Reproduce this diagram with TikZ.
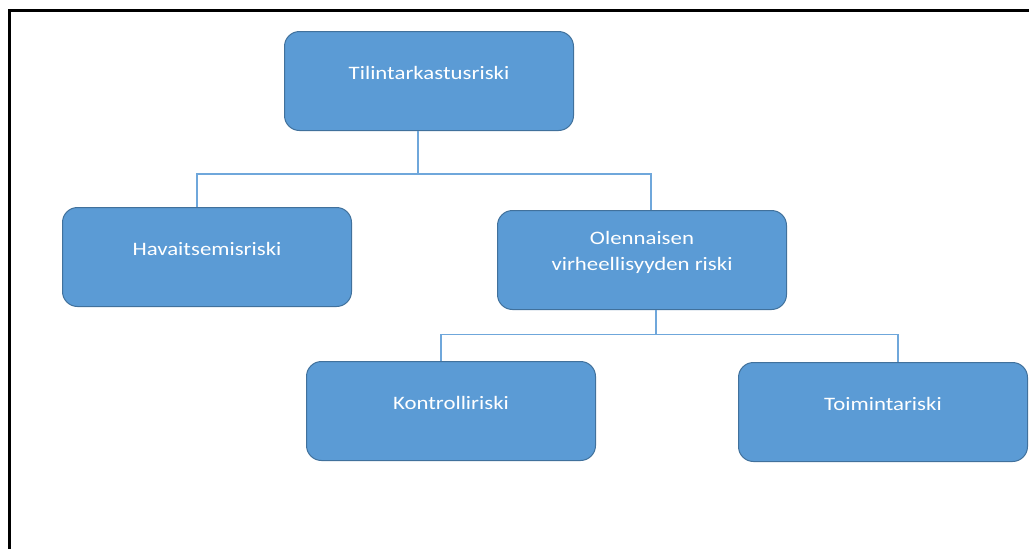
\documentclass[tikz,border=0pt]{standalone}
\usepackage{fontspec}
\usepackage{graphicx}
\setmainfont{Carlito}
\newcommand{\wide}[1]{\scalebox{1.2}[1]{#1}}
\begin{document}
\begin{tikzpicture}[x=1pt,y=-1pt,
  riskbox/.style={draw=boxedge, fill=boxfill, line width=1pt, rounded corners=15pt,
    minimum width=289pt, minimum height=99pt, inner sep=0pt, anchor=north west},
  risktext/.style={text=white, font=\fontsize{19}{26}\selectfont, align=center},
  link/.style={draw=linkblue, line width=1.6pt}]
\definecolor{boxfill}{HTML}{5B9BD5}
\definecolor{boxedge}{HTML}{41719C}
\definecolor{linkblue}{HTML}{6FA7DB}
\useasboundingbox (0,0) rectangle (1029,549);
% page frame on the left and top edges
\draw[line width=2.2pt, black] (9.5,549) -- (9.5,10.5) -- (1029,10.5);

% boxes
\node[riskbox] (top) at (284,31) {};
\node[riskbox] (hav) at (62,207) {};
\node[riskbox] (ole) at (497,210) {};
\node[riskbox] (kon) at (306,361) {};
\node[riskbox] (toi) at (738,362) {};

% labels, set a little above the box centres
\node[risktext] at ([yshift=8pt]top.center) {\wide{Tilintarkastusriski}};
\node[risktext] at ([yshift=8pt]hav.center) {\wide{Havaitsemisriski}};
\node[risktext] at ([yshift=8pt]ole.center) {\wide{Olennaisen}\\\wide{virheellisyyden riski}};
\node[risktext] at ([yshift=8pt]kon.center) {\wide{Kontrolliriski}};
\node[risktext] at ([yshift=8pt]toi.center) {\wide{Toimintariski}};

% connectors
\coordinate (j1) at (418,174);
\coordinate (j2) at (656,334.5);
\draw[link] (top.south -| j1) -- (j1);
\draw[link] (hav.north -| 197,0) |- (j1) -| (ole.north -| 651,0);
\draw[link] (ole.south -| j2) -- (j2);
\draw[link] (kon.north -| 441,0) |- (j2) -| (toi.north -| 898,0);
\end{tikzpicture}
\end{document}
